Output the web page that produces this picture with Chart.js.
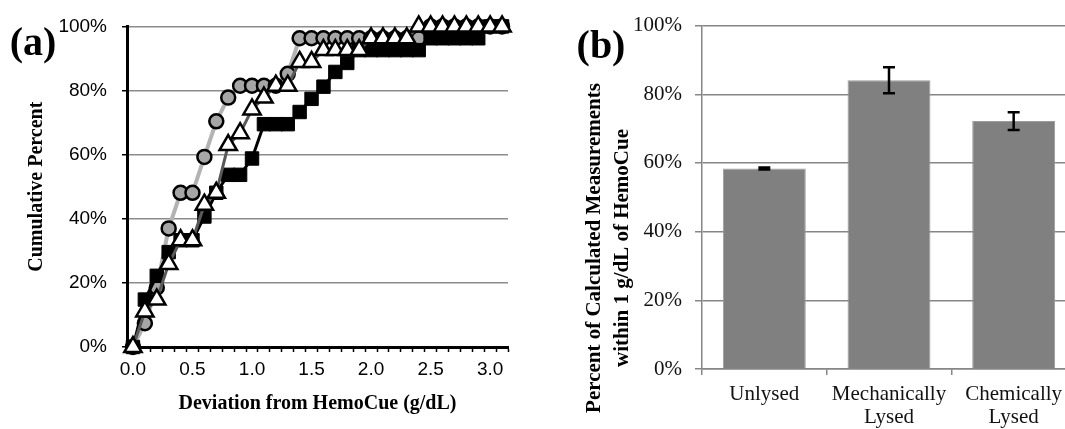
<!DOCTYPE html>
<html>
<head>
<meta charset="utf-8">
<script src="https://cdn.jsdelivr.net/npm/chart.js@4.4.1/dist/chart.umd.min.js"></script>
<style>
  html, body { margin: 0; padding: 0; background: #fff; overflow: hidden; }
  body { width: 1065px; height: 429px; position: relative; }
  #cumul { position: absolute; left: 0; top: 0; }
  #barras { position: absolute; left: 540px; top: 0; }
</style>
</head>
<body>
<canvas id="cumul" width="530" height="429"></canvas>
<canvas id="barras" width="540" height="429"></canvas>
<script>
// (a) cumulative percent of measurements vs deviation from HemoCue
const deviation = ['0.0', '0.1', '0.2', '0.3', '0.4', '0.5', '0.6', '0.7', '0.8', '0.9',
  '1.0', '1.1', '1.2', '1.3', '1.4', '1.5', '1.6', '1.7', '1.8', '1.9',
  '2.0', '2.1', '2.2', '2.3', '2.4', '2.5', '2.6', '2.7', '2.8', '2.9', '3.0', '3.1'];

// gris, círculos
const mechanical = [0, 7.4, 18.5, 37.0, 48.1, 48.1, 59.3, 70.4, 77.8, 81.5,
  81.5, 81.5, 81.5, 85.2, 96.3, 96.3, 96.3, 96.3, 96.3, 96.3,
  96.3, 96.3, 96.3, 96.3, 96.3, 100, 100, 100, 100, 100, 100, 100];

// negro, cuadrados
const unlysed = [0, 14.8, 22.2, 29.6, 33.3, 33.3, 40.7, 48.1, 53.7, 53.7,
  58.8, 69.5, 69.5, 69.5, 73.3, 77.4, 81.2, 85.8, 88.6, 92.6,
  92.6, 92.6, 92.6, 92.6, 92.6, 96.3, 96.3, 96.3, 96.3, 96.3, 100, 100];

// blanco, triángulos
const chemical = [0, 11.1, 14.8, 25.9, 33.3, 33.3, 44.4, 48.1, 63.0, 66.7,
  74.1, 77.8, 81.5, 81.5, 88.9, 88.9, 92.6, 92.6, 92.6, 92.6,
  96.3, 96.3, 96.3, 96.3, 100, 100, 100, 100, 100, 100, 100, 100];

// (b) percent within 1 g/dL of HemoCue
const lysisMethods = ['Unlysed', ['Mechanically', 'Lysed'], ['Chemically', 'Lysed']];
const lysisMeans = [58.4, 84.1, 72.2];
const lysisErrors = [0.3, 3.8, 2.6];

const percentTick = v => v + '%';

// etiqueta del panel
function panelLabel(text, x, y) {
  return {
    id: 'panel' + text,
    afterDraw(chart) {
      const ctx = chart.ctx;
      ctx.save();
      ctx.font = 'bold 40px "Liberation Serif"';
      ctx.fillStyle = '#000';
      ctx.textAlign = 'center';
      ctx.textBaseline = 'middle';
      ctx.fillText(text, x, y);
      ctx.restore();
    }
  };
}

new Chart(document.getElementById('cumul'), {
  type: 'line',
  data: {
    labels: deviation,
    datasets: [
      {
        label: 'Chemically Lysed', data: chemical, order: 0, clip: false,
        borderColor: '#595959', borderWidth: 3, tension: 0,
        pointStyle: 'triangle', pointRadius: 10,
        pointBackgroundColor: '#fff', pointBorderColor: '#000', pointBorderWidth: 2.5
      },
      {
        label: 'Unlysed', data: unlysed, order: 1, clip: false,
        borderColor: '#000', borderWidth: 3, tension: 0,
        pointStyle: 'rect', pointRadius: 9.5,
        pointBackgroundColor: '#000', pointBorderColor: '#000', pointBorderWidth: 1
      },
      {
        label: 'Mechanically Lysed', data: mechanical, order: 2, clip: false,
        borderColor: '#b3b3b3', borderWidth: 4, tension: 0,
        pointStyle: 'circle', pointRadius: 7,
        pointBackgroundColor: '#a6a6a6', pointBorderColor: '#000', pointBorderWidth: 2.5
      }
    ]
  },
  options: {
    responsive: false,
    animation: false,
    layout: { padding: { top: 23, right: 22, left: 0, bottom: 0 } },
    plugins: { legend: { display: false }, tooltip: { enabled: false } },
    scales: {
      x: {
        type: 'category',
        offset: true,
        afterFit: s => { s.height = 82; },
        grid: { offset: true, drawOnChartArea: false, tickLength: 5, tickColor: '#000', tickWidth: 1.5 },
        border: { color: '#000', width: 3 },
        ticks: {
          autoSkip: false, maxRotation: 0, padding: 6,
          color: '#000', font: { family: '"Liberation Sans"', size: 19 },
          callback: function (v, i) { return i % 5 === 0 ? this.getLabelForValue(v) : ''; }
        },
        title: {
          display: true, text: 'Deviation from HemoCue (g/dL)', color: '#000',
          font: { family: '"Liberation Serif"', size: 20, weight: 'bold' },
          padding: { top: 0, bottom: 13 }
        }
      },
      y: {
        min: 0, max: 100,
        afterFit: s => { s.width = 127; },
        grid: { color: '#8c8c8c', lineWidth: 1.5, tickLength: 5, tickColor: '#000', tickWidth: 1.5 },
        border: { color: '#000', width: 3 },
        ticks: {
          stepSize: 20, padding: 15, color: '#000',
          font: { family: '"Liberation Sans"', size: 19 },
          callback: percentTick
        },
        title: {
          display: true, text: 'Cumulative Percent', color: '#000',
          font: { family: '"Liberation Serif"', size: 20, weight: 'bold' },
          padding: { top: 25, bottom: 0 }
        }
      }
    }
  },
  plugins: [panelLabel('(a)', 33, 45)]
});

// barras de error
const errorBars = {
  id: 'errorBars',
  afterDatasetsDraw(chart) {
    const { ctx, scales: { x, y } } = chart;
    ctx.save();
    ctx.strokeStyle = '#000';
    ctx.lineWidth = 2.5;
    lysisMeans.forEach((m, i) => {
      const px = x.getPixelForValue(i);
      const top = y.getPixelForValue(m + lysisErrors[i]);
      const bot = y.getPixelForValue(m - lysisErrors[i]);
      ctx.beginPath();
      ctx.moveTo(px, top); ctx.lineTo(px, bot);
      ctx.moveTo(px - 6, top); ctx.lineTo(px + 6, top);
      ctx.moveTo(px - 6, bot); ctx.lineTo(px + 6, bot);
      ctx.stroke();
    });
    ctx.restore();
  }
};

// título del eje y en dos líneas
const yTitleB = {
  id: 'yTitleB',
  afterDraw(chart) {
    const ctx = chart.ctx;
    ctx.save();
    ctx.font = 'bold 21px "Liberation Serif"';
    ctx.fillStyle = '#000';
    ctx.textAlign = 'center';
    ctx.textBaseline = 'middle';
    ctx.translate(0, 248);
    ctx.rotate(-Math.PI / 2);
    ctx.fillText('Percent of Calculated Measurements', 0, 55);
    ctx.fillText('within 1 g/dL of HemoCue', 0, 83);
    ctx.restore();
  }
};

new Chart(document.getElementById('barras'), {
  type: 'bar',
  data: {
    labels: lysisMethods,
    datasets: [{
      data: lysisMeans,
      backgroundColor: '#808080',
      borderColor: '#9c9c9c',
      borderWidth: 1,
      categoryPercentage: 1,
      barPercentage: 0.665
    }]
  },
  options: {
    responsive: false,
    animation: false,
    layout: { padding: { top: 20, right: 4, left: 0, bottom: 0 } },
    plugins: { legend: { display: false }, tooltip: { enabled: false } },
    scales: {
      x: {
        afterFit: s => { s.height = 60; },
        grid: { offset: true, drawOnChartArea: false, tickLength: 6, color: '#868686', lineWidth: 1.5 },
        border: { color: '#868686', width: 1.5 },
        ticks: {
          maxRotation: 0, padding: 8, color: '#111',
          font: { family: '"Liberation Serif"', size: 21, lineHeight: 1.1 }
        }
      },
      y: {
        min: 0, max: 100,
        afterFit: s => { s.width = 162; },
        grid: { color: '#868686', lineWidth: 1.5, tickLength: 7 },
        border: { color: '#868686', width: 1.5 },
        ticks: {
          stepSize: 20, padding: 13, color: '#111',
          font: { family: '"Liberation Serif"', size: 21 },
          callback: percentTick
        }
      }
    }
  },
  plugins: [errorBars, yTitleB, panelLabel('(b)', 61, 48)]
});
</script>
</body>
</html>
